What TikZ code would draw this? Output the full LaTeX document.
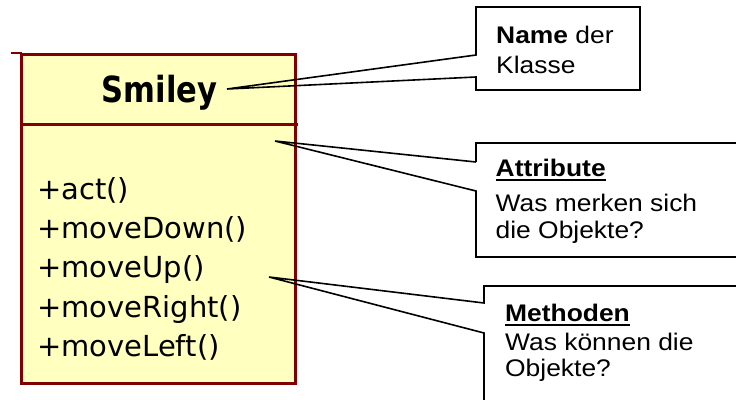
\documentclass[tikz,border=0pt]{standalone}
\usepackage{fontspec}
\usepackage{graphicx}
\setmainfont{Liberation Sans}
\newfontfamily\umlfont[FakeStretch=1.0]{DejaVu Sans}
\newfontfamily\umltitlefont[FakeStretch=0.85]{DejaVu Sans}
\newfontfamily\notefont[FakeStretch=1.1]{Liberation Sans}
\definecolor{classfill}{RGB}{255,255,192}
\definecolor{classline}{RGB}{128,0,0}
% bold heading with a heavy underline
\newcommand\noteheading[1]{\setbox0=\hbox{\bfseries #1}\rlap{\vrule width\wd0 height -2.4pt depth 4.6pt}\box0}
\tikzset{
  classbox/.style={draw=classline, fill=classfill, line width=3pt},
  classrule/.style={draw=classline, line width=3pt},
  classtitle/.style={anchor=base, inner sep=0pt, font=\umltitlefont\bfseries\fontsize{36}{38}\selectfont},
  member/.style={anchor=base west, inner sep=0pt, font=\umlfont\fontsize{29}{32}\selectfont},
  note/.style={draw=black, line width=1.6pt, line join=miter},
  notetext/.style={anchor=base west, inner sep=0pt, font=\notefont\fontsize{24}{27}\selectfont},
}
\begin{document}
\begin{tikzpicture}[x=1pt,y=-1pt]
\useasboundingbox (0,0) rectangle (736,399);
\begin{scope}
\clip (0,0) rectangle (736,399);
% class box
\coordinate (cNW) at (21.3,54.7);
\coordinate (cSE) at (295,383);
\draw[classbox] (cNW) rectangle (cSE);
\coordinate (stubL) at (10.5,53.2);
\coordinate (stubR) at (22,53.2);
\draw[classrule, line width=2.5pt] (stubL) -- (stubR);
\coordinate (divL) at (21.3,124.7);
\coordinate (divR) at (298,124.7);
\draw[classrule] (divL) -- (divR);
\node[classtitle] (title) at (159.5,102) {Smiley};
\node[member] (m1) at (37,199) {+act()};
\node[member] (m2) at (37,238) {+moveDown()};
\node[member] (m3) at (37,277.5) {+moveUp()};
\node[member] (m4) at (37,317) {+moveRight()};
\node[member] (m5) at (37,356.5) {+moveLeft()};
% callout: class name
\coordinate (tipA) at (227,89);
\draw[note] (476,55) -- (476,7) -- (640,7) -- (640,90) -- (476,90) -- (476,77) -- (tipA) -- cycle;
\node[notetext] (a1) at (496,43.3) {\textbf{Name} der};
\node[notetext] (a2) at (496,73.3) {Klasse};
% callout: attributes
\coordinate (tipB) at (275,141);
\draw[note] (476,162) -- (476,143) -- (745,143);
\draw[note] (745,257) -- (476,257) -- (476,191) -- (tipB) -- (476,162);
\node[notetext] (b1) at (495.5,176.5) {\noteheading{Attribute}};
\node[notetext] (b2) at (495.5,211) {Was merken sich};
\node[notetext] (b3) at (495.5,238) {die Objekte?};
% callout: methods
\coordinate (tipC) at (269,277);
\draw[note] (745,286) -- (484,286) -- (484,303) -- (tipC) -- (484,333) -- (484,410);
\node[notetext] (c1) at (505,321.7) {\noteheading{Methoden}};
\node[notetext] (c2) at (505,350) {Was können die};
\node[notetext] (c3) at (505,376.7) {Objekte?};
\end{scope}
\end{tikzpicture}
\end{document}
